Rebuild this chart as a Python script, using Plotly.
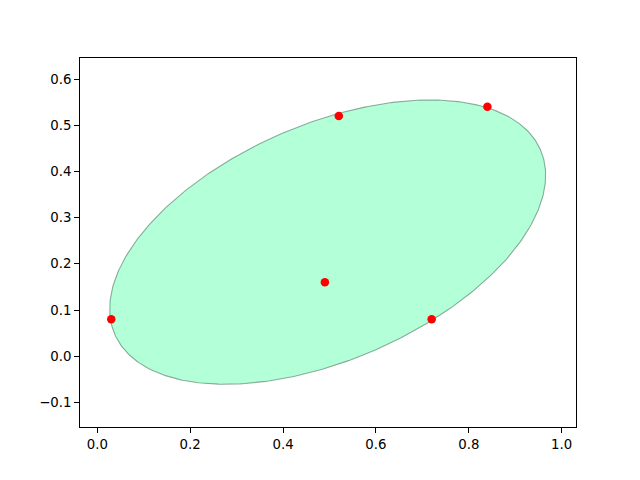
import numpy as np
import plotly.graph_objects as go

# Data points
point_x = [0.03, 0.52, 0.84, 0.49, 0.72]
point_y = [0.08, 0.52, 0.54, 0.16, 0.08]

# Ellipse parameters
ellipse_center = [0.496, 0.247]
ellipse_semi_axes = [0.5, 0.255]
ellipse_angle_deg = 23.6

t = np.linspace(0, 2 * np.pi, 400)
th = np.deg2rad(ellipse_angle_deg)
a, b = ellipse_semi_axes
ex = ellipse_center[0] + a * np.cos(t) * np.cos(th) - b * np.sin(t) * np.sin(th)
ey = ellipse_center[1] + a * np.cos(t) * np.sin(th) + b * np.sin(t) * np.cos(th)

fig = go.Figure()
fig.add_trace(go.Scatter(
    x=ex, y=ey, mode="lines", fill="toself",
    fillcolor="rgba(0,255,127,0.3)",
    line=dict(color="rgba(10,50,30,0.4)", width=1.1),
    hoverinfo="skip", showlegend=False,
))
fig.add_trace(go.Scatter(
    x=point_x, y=point_y, mode="markers",
    marker=dict(color="red", size=8.5, line=dict(width=0)),
    showlegend=False,
))

axis_common = dict(
    showgrid=False, zeroline=False, showline=True, linecolor="black",
    linewidth=1, mirror=True, ticks="outside", ticklen=4.9, tickwidth=1,
    tickcolor="black", tickformat=".1f",
    tickfont=dict(family="DejaVu Sans", size=13.3, color="black"),
)
fig.update_xaxes(range=[-0.0373, 1.0308], dtick=0.2, tick0=0, **axis_common)
fig.update_yaxes(range=[-0.1532, 0.6455], dtick=0.1, tick0=0, **axis_common)

fig.update_layout(
    width=640, height=480,
    margin=dict(l=72, r=72, t=50, b=61),
    plot_bgcolor="white", paper_bgcolor="white",
    font=dict(family="DejaVu Sans", size=13.3, color="black"),
)

fig.write_html("out.html")
